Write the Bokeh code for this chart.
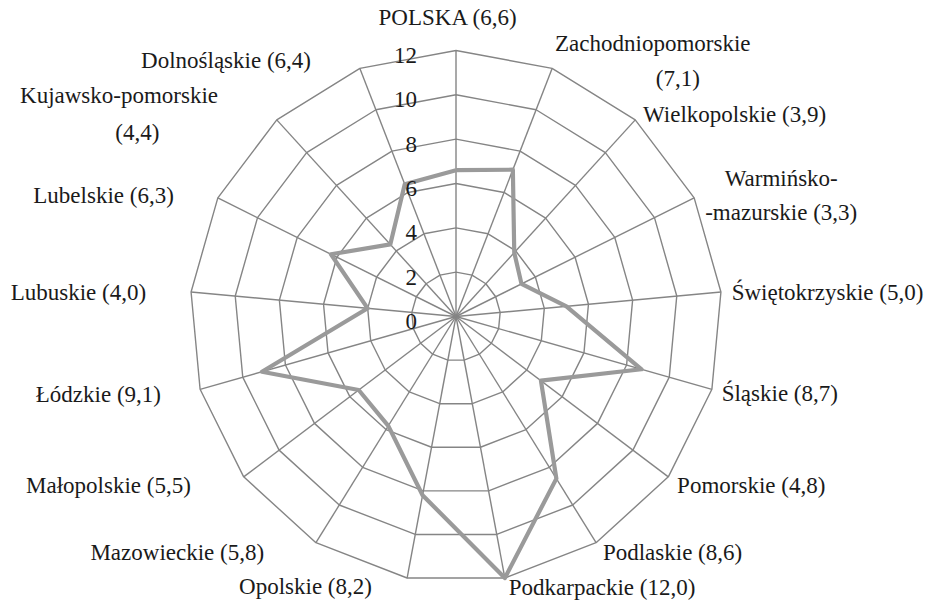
import numpy as np
from bokeh.plotting import figure
from bokeh.models import Range1d, ColumnDataSource
from bokeh.embed import file_html
from bokeh.resources import INLINE
from bokeh.core.properties import value

# ---------------- data ----------------
categories = ["POLSKA", "Zachodniopomorskie", "Wielkopolskie", "Warmińsko-mazurskie",
              "Świętokrzyskie", "Śląskie", "Pomorskie", "Podlaskie", "Podkarpackie",
              "Opolskie", "Mazowieckie", "Małopolskie", "Łódzkie", "Lubuskie",
              "Lubelskie", "Kujawsko-pomorskie", "Dolnośląskie"]
values = [6.6, 7.1, 3.9, 3.3, 5.0, 8.7, 4.8, 8.6, 12.0, 8.2, 5.8, 5.5, 9.1, 4.0, 6.3, 4.4, 6.4]
ticks = [0, 2, 4, 6, 8, 10, 12]
tick_labels = ["0", "2", "4", "6", "8", "10", "12"]
r_max = 12

# how the long labels wrap onto two lines
label_break = {"Zachodniopomorskie": "value", "Kujawsko-pomorskie": "value",
               "Warmińsko-mazurskie": "hyphen"}

# ---------------- layout ----------------
W, H = 928, 600
S = 0.978                   # reference-to-figure scale
CX, CY = 455.5, 316.0       # centre of the radar in figure pixels
U = 22.67 * S               # pixels per unit
FONT = "Liberation Serif"
FSIZE = "23px"
TXT = "#1a1a1a"
GRID = "#858585"
LINE = "#9a9a9a"

# per label line: (align, dx px, dy px downwards) relative to the outer vertex
label_layout = [
    [("center", -8, -34)],
    [("left", 3, -25), ("left", 106, 10)],
    [("left", 8, -6)],
    [("center", 89, -20), ("center", 89, 15)],
    [("left", 11, 1)],
    [("left", 10, 4)],
    [("left", 9, 9)],
    [("left", 7, 10)],
    [("left", 4, 10)],
    [("right", -36, 9)],
    [("right", -53, 10)],
    [("right", -54, 9)],
    [("right", -40, 5)],
    [("right", -46, 1)],
    [("right", -45, -2)],
    [("right", -60, -25), ("right", -120, 13)],
    [("right", -50, -8)],
]

n = len(categories)
theta = np.arange(n) * 2 * np.pi / n
sn, cs = np.sin(theta), np.cos(theta)

p = figure(width=W, height=H,
           x_range=Range1d(-CX / U, (W - CX) / U),
           y_range=Range1d(-(H - CY) / U, CY / U),
           output_backend="svg", toolbar_location=None, min_border=0,
           x_axis_location=None, y_axis_location=None)
p.grid.visible = False
p.outline_line_color = None
p.background_fill_color = "white"

# rings
ring_xs, ring_ys = [], []
for t in ticks[1:]:
    ring_xs.append(list(np.append(t * sn, t * sn[0])))
    ring_ys.append(list(np.append(t * cs, t * cs[0])))
p.multi_line(ring_xs, ring_ys, line_color=GRID, line_width=1.4)
# spokes
p.multi_line([[0, r_max * s] for s in sn], [[0, r_max * c] for c in cs],
             line_color=GRID, line_width=1.4)

# data line (closed)
vals = np.array(values)
p.line(np.append(vals * sn, vals[0] * sn[0]), np.append(vals * cs, vals[0] * cs[0]),
       line_color=LINE, line_width=4.2, line_join="round")

# tick labels
p.text(x=[-40 * S / U] * len(ticks), y=[t - 5 * S / U for t in ticks], text=tick_labels,
       text_align="right", text_baseline="middle", text_font=value(FONT),
       text_font_size=FSIZE, text_color=TXT)


def fmt(v):
    return f"{v:.1f}".replace(".", ",")


def lines_for(name, v):
    brk = label_break.get(name)
    if brk == "value":
        return [name, f"({fmt(v)})"]
    if brk == "hyphen":
        a, b = name.split("-", 1)
        return [a + "-", "-" + b + f" ({fmt(v)})"]
    return [f"{name} ({fmt(v)})"]


groups = {"left": dict(x=[], y=[], t=[]), "right": dict(x=[], y=[], t=[]),
          "center": dict(x=[], y=[], t=[])}
for i, (name, v) in enumerate(zip(categories, values)):
    vx, vy = r_max * sn[i], r_max * cs[i]
    for line, (al, dx, dy) in zip(lines_for(name, v), label_layout[i]):
        g = groups[al]
        g["x"].append(vx + dx * S / U)
        g["y"].append(vy - dy * S / U)
        g["t"].append(line)

for al, g in groups.items():
    src = ColumnDataSource(dict(x=g["x"], y=g["y"], t=g["t"]))
    p.text(x="x", y="y", text="t", source=src, text_align=al, text_baseline="middle",
           text_font=value(FONT), text_font_size=FSIZE, text_color=TXT)

open("out.html", "w").write(file_html(p, INLINE))
